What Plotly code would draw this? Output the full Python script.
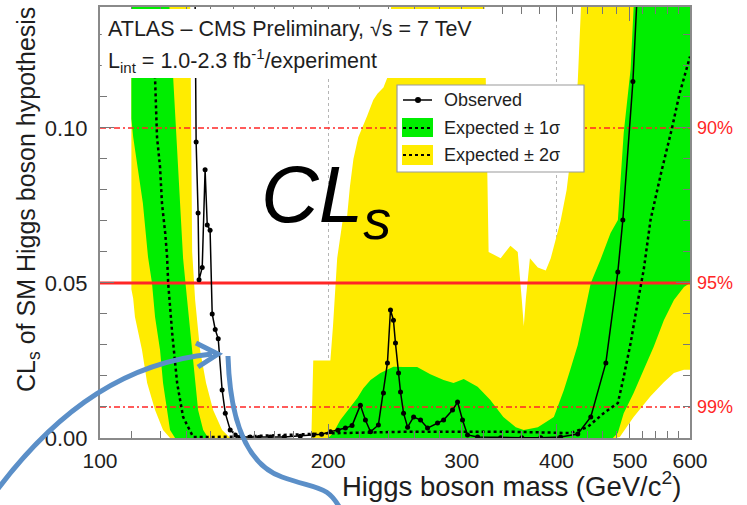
import numpy as np
import plotly.graph_objects as go

# ---------------- data ----------------
obs_mass = [132.5, 133.9, 134.7, 135.1, 136.4, 137.6, 138.5, 139.7, 140.6, 141.9, 143.2, 144.9,
            146.3, 148.5, 150.8, 153.1, 157.8, 162.0, 167.7, 175.0, 183.7, 191.1, 196.0, 201.3,
            206.0, 210.7, 215.0, 220.5, 223.9, 227.4, 232.9, 236.5, 239.4, 241.6, 243.8, 245.3,
            247.6, 249.1, 251.4, 254.5, 259.2, 264.7, 270.4, 278.7, 283.9, 291.7, 296.2, 300.7,
            305.3, 314.8, 337.6, 360.0, 381.3, 405.0, 426.7, 443.9, 464.7, 481.9, 489.3, 504.5,
            510.6, 520.0, 600.0]
obs_cls = [0.25, 0.0955, 0.0726, 0.051, 0.055, 0.0865, 0.0687, 0.067, 0.040, 0.035, 0.032, 0.0155,
           0.008, 0.0026, 0.001, 0.0003, 0.0003, 0.0002, 0.0003, 0.0003, 0.0006, 0.001, 0.0012, 0.002,
           0.0025, 0.0032, 0.004, 0.0106, 0.0058, 0.002, 0.0042, 0.0145, 0.0242, 0.0413, 0.038, 0.0306,
           0.021, 0.0148, 0.008, 0.0035, 0.0068, 0.0058, 0.0032, 0.0048, 0.0058, 0.009, 0.0116, 0.0058,
           0.001, 0.0003, 0.0001, 0.0001, 0.0001, 0.0003, 0.0013, 0.0068, 0.0242, 0.0535, 0.0703, 0.115,
           0.141, 0.17, 0.55]

exp_mass = [110.0, 115.0, 118.2, 118.9, 120.0, 120.7, 121.9, 122.6, 123.0, 124.5, 126.4, 128.7,
            132.7, 150.0, 200.0, 250.0, 300.0, 350.0, 417.0, 439.5, 461.6, 482.0, 490.6, 501.0,
            511.6, 521.3, 532.2, 549.6, 567.4, 581.2, 600.0]
exp_cls = [0.5, 0.25, 0.116, 0.0971, 0.0874, 0.0758, 0.0661, 0.0584, 0.050, 0.0339, 0.0177, 0.0068,
           0.0003, 0.0004, 0.0015, 0.002, 0.002, 0.002, 0.0016, 0.0035, 0.008, 0.0113, 0.0197, 0.0306,
           0.0435, 0.0542, 0.0703, 0.0855, 0.0994, 0.111, 0.123]

# expected +1 sigma (upper) and -1 sigma (lower) edges
p1_mass = [110.0, 120.0, 123.7, 124.9, 126.8, 128.7, 130.3, 132.3, 133.5, 134.7, 136.8, 138.9,
           200.0, 203.0, 207.5, 213.9, 218.6, 222.4, 227.4, 234.3, 243.8, 251.4, 262.0, 272.7,
           283.9, 292.6, 301.8, 314.8, 327.0, 340.4, 353.5, 362.2, 378.0, 396.8, 409.1, 417.0,
           426.7, 443.9, 457.0, 471.4, 482.0, 490.6, 501.0, 505.6, 513.3, 600.0]
p1_cls = [0.4, 0.2, 0.135, 0.116, 0.0865, 0.058, 0.0445, 0.0284, 0.0177, 0.009, 0.0026, 0.0,
          0.0, 0.0016, 0.0058, 0.010, 0.013, 0.016, 0.0187, 0.021, 0.023, 0.0229, 0.0229, 0.0206,
          0.0187, 0.0177, 0.019, 0.0165, 0.0123, 0.0068, 0.0035, 0.0026, 0.0035, 0.0068, 0.0155, 0.0219,
          0.030, 0.050, 0.0574, 0.0661, 0.0703, 0.0984, 0.119, 0.139, 0.16, 0.45]
m1_mass = [110.0, 110.6, 113.9, 115.7, 117.1, 118.2, 120.0, 121.1, 122.6, 123.7, 125.6, 474.7,
           481.9, 490.6, 505.6, 521.3, 537.4, 554.2, 571.4, 589.1, 600.0]
m1_cls = [0.103, 0.0971, 0.0758, 0.0584, 0.050, 0.039, 0.0284, 0.0177, 0.009, 0.0026, 0.0, 0.0,
          0.0016, 0.008, 0.0145, 0.022, 0.0294, 0.038, 0.0445, 0.0487, 0.050]

# expected +2 sigma (upper) and -2 sigma (lower) edges
p2_mass = [110.0, 120.0, 128.0, 131.5, 132.3, 133.5, 135.5, 138.0, 141.0, 144.9, 148.5, 190.0,
           191.1, 201.3, 202.9, 205.5, 208.9, 211.7, 213.6, 215.9, 219.1, 221.8, 225.2, 229.3,
           232.2, 236.5, 240.0, 244.0, 320.5, 325.5, 337.6, 347.8, 355.6, 359.9, 362.2, 364.5,
           369.0, 378.0, 387.2, 393.1, 399.2, 405.0, 412.5, 419.6, 426.7, 434.6, 600.0]
p2_cls = [0.5, 0.35, 0.2, 0.14, 0.06, 0.0445, 0.0284, 0.0177, 0.009, 0.0026, 0.0, 0.0,
          0.025, 0.025, 0.036, 0.058, 0.070, 0.071, 0.081, 0.090, 0.097, 0.100, 0.104, 0.109,
          0.111, 0.113, 0.117, 0.16, 0.16, 0.060, 0.058, 0.062, 0.060, 0.045, 0.036, 0.045,
          0.058, 0.055, 0.054, 0.058, 0.064, 0.070, 0.080, 0.095, 0.115, 0.16, 0.4]
m2_mass = [110.0, 110.6, 111.2, 113.6, 115.4, 118.2, 121.1, 123.7, 478.6, 484.8, 505.6, 532.2,
           554.2, 571.4, 589.1, 600.0]
m2_cls = [0.048, 0.045, 0.039, 0.0284, 0.0177, 0.009, 0.0026, 0.0, 0.0, 0.0003, 0.0068, 0.0135,
          0.018, 0.021, 0.022, 0.022]

cl_levels = [0.10, 0.05, 0.01]
cl_labels = ["90%", "95%", "99%"]
x_tick_vals = [100, 200, 300, 400, 500, 600]
x_minor_vals = [110, 120, 130, 140, 150, 160, 170, 180, 190, 220, 240, 260, 280, 320, 340, 360,
                380, 420, 440, 460, 480, 520, 540, 560, 580]
y_tick_vals = [0.00, 0.05, 0.10]
y_minor_vals = [0.01, 0.02, 0.03, 0.04, 0.06, 0.07, 0.08, 0.09, 0.11, 0.12, 0.13]

# ---------------- styling ----------------
YELLOW = "#ffec00"
GREEN = "#00ee00"
RED = "#ff2626"
BLUE = "#5b8fc8"
FONT = "Liberation Sans, Arial, sans-serif"
TXT = "#1e1e1e"

W, H = 747, 505
L, R, T, B = 100, 57, 7, 67
PW, PH = W - L - R, H - T - B


def P(px, py):
    """pixel -> paper coordinates (for decorations only)"""
    return (px - L) / PW, (H - B - py) / PH


def path(cmds):
    out = []
    for c in cmds:
        if isinstance(c, str):
            out.append(c)
        else:
            X, Y = P(*c)
            out.append(f"{X:.4f},{Y:.4f}")
    return " ".join(out)


fig = go.Figure()

# yellow band (+-2 sigma)
fig.add_trace(go.Scatter(x=p2_mass + m2_mass[::-1], y=p2_cls + m2_cls[::-1], fill="toself",
                         fillcolor=YELLOW, line=dict(width=0), mode="lines", hoverinfo="skip"))
# green band (+-1 sigma)
fig.add_trace(go.Scatter(x=p1_mass + m1_mass[::-1], y=p1_cls + m1_cls[::-1], fill="toself",
                         fillcolor=GREEN, line=dict(width=0), mode="lines", hoverinfo="skip"))

# confidence level lines
for lvl in cl_levels:
    solid = abs(lvl - 0.05) < 1e-9
    fig.add_trace(go.Scatter(x=[100, 600], y=[lvl, lvl], mode="lines",
                             line=dict(color=RED, width=3 if solid else 1.5,
                                       dash="solid" if solid else "6px,3px,2px,3px"),
                             hoverinfo="skip"))

# expected
fig.add_trace(go.Scatter(x=exp_mass, y=exp_cls, mode="lines",
                         line=dict(color="black", width=2.5, dash="dot")))
# observed
fig.add_trace(go.Scatter(x=obs_mass, y=obs_cls, mode="lines+markers",
                         line=dict(color="black", width=1.5),
                         marker=dict(color="black", size=5), cliponaxis=True))

shapes = []
# white pad behind the header text
bx0, by0 = P(100, 78)
bx1, by1 = P(487, 9)
shapes.append(dict(type="rect", xref="paper", yref="paper", x0=bx0 + 0.003, x1=bx1, y0=by0, y1=by1,
                   fillcolor="white", line=dict(width=0), layer="above"))

# legend box
lx0, ly0 = P(397, 172)
lx1, ly1 = P(584, 85)
shapes.append(dict(type="rect", xref="paper", yref="paper", x0=lx0, x1=lx1, y0=ly0, y1=ly1,
                   fillcolor="white", line=dict(color="#9a9a9a", width=1.2), layer="above"))
# swatches
for (ya, yb, col) in [(118, 137, GREEN), (145, 165, YELLOW)]:
    a = P(402, yb)
    b = P(433, ya)
    shapes.append(dict(type="rect", xref="paper", yref="paper", x0=a[0], x1=b[0], y0=a[1], y1=b[1],
                       fillcolor=col, line=dict(width=0), layer="above"))
for yy in (128, 155):
    a = P(403, yy)
    b = P(432, yy)
    shapes.append(dict(type="line", xref="paper", yref="paper", x0=a[0], x1=b[0], y0=a[1], y1=b[1],
                       line=dict(color="black", width=2, dash="dot"), layer="above"))
a = P(403, 100)
b = P(432, 100)
shapes.append(dict(type="line", xref="paper", yref="paper", x0=a[0], x1=b[0], y0=a[1], y1=b[1],
                   line=dict(color="black", width=1.5), layer="above"))
c0 = P(415, 97)
c1 = P(421, 103)
shapes.append(dict(type="circle", xref="paper", yref="paper", x0=c0[0], x1=c1[0], y0=c1[1], y1=c0[1],
                   fillcolor="black", line=dict(width=0), layer="above"))

# blue hand-drawn arrows
shapes.append(dict(type="path", xref="paper", yref="paper", layer="above",
                   path=path(["M", (-6, 494), "C", (60, 405), (130, 362), (212, 354)]),
                   line=dict(color=BLUE, width=5)))
shapes.append(dict(type="path", xref="paper", yref="paper", layer="above",
                   path=path(["M", (196, 343), "L", (218, 354), "L", (198, 367)]),
                   line=dict(color=BLUE, width=5)))
shapes.append(dict(type="path", xref="paper", yref="paper", layer="above",
                   path=path(["M", (228, 356), "C", (230, 420), (246, 464), (282, 477),
                              "S", (328, 484), (342, 512)]),
                   line=dict(color=BLUE, width=5)))

annotations = []


def ann(text, px, py, size, xanchor="center", yanchor="middle", color=TXT, angle=0, **kw):
    X, Y = P(px, py)
    annotations.append(dict(text=text, x=X, y=Y, xref="paper", yref="paper", showarrow=False,
                            xanchor=xanchor, yanchor=yanchor, textangle=angle,
                            font=dict(family=FONT, size=size, color=color), **kw))


ann("ATLAS – CMS Preliminary, √s = 7 TeV", 106, 29, 21.5, xanchor="left")
ann("L<sub>int</sub> = 1.0-2.3 fb<sup>-1</sup>/experiment", 106, 61, 21.5, xanchor="left")
ann("Observed", 442, 100, 18, xanchor="left")
ann("Expected ± 1σ", 442, 128, 18, xanchor="left")
ann("Expected ± 2σ", 442, 155, 18, xanchor="left")
for lvl, lab in zip(cl_levels, cl_labels):
    annotations.append(dict(text=lab, x=1.008, y=lvl, xref="paper", yref="y", showarrow=False,
                            xanchor="left", yanchor="middle",
                            font=dict(family=FONT, size=18, color=RED)))
ann("<i>CL<sub>s</sub></i>", 259, 200, 80, xanchor="left", color="black")
ann("CL<sub>s</sub> of SM Higgs boson hypothesis", 28, 200, 25, angle=-90)
ann("Higgs boson mass (GeV/c<sup>2</sup>)", 511, 504, 27.5, yanchor="bottom")

fig.update_layout(
    width=W, height=H, margin=dict(l=L, r=R, t=T, b=B, autoexpand=False),
    plot_bgcolor="white", paper_bgcolor="white", showlegend=False,
    font=dict(family=FONT, color=TXT),
    shapes=shapes, annotations=annotations,
)
fig.update_xaxes(type="log", range=[np.log10(100), np.log10(600)],
                 tickmode="array", tickvals=x_tick_vals, ticktext=[str(v) for v in x_tick_vals],
                 ticks="inside", ticklen=14, tickwidth=1, tickcolor="#777",
                 showline=True, linecolor="#8a8a8a", linewidth=2, mirror="ticks",
                 showgrid=True, gridcolor="#b5b5b5", griddash="dot", gridwidth=1,
                 minor=dict(tickmode="array", tickvals=x_minor_vals, ticks="inside", ticklen=7,
                            tickcolor="#777", showgrid=False),
                 tickfont=dict(family=FONT, size=21, color=TXT), ticklabelstandoff=3,
                 zeroline=False)
fig.update_yaxes(range=[0, 0.139], tickmode="array", tickvals=y_tick_vals,
                 ticktext=["0.00", "0.05", "0.10"],
                 ticks="inside", ticklen=14, tickwidth=1, tickcolor="#777",
                 showline=True, linecolor="#8a8a8a", linewidth=2, mirror="ticks",
                 showgrid=False, zeroline=False,
                 minor=dict(tickmode="array", tickvals=y_minor_vals, ticks="inside", ticklen=7,
                            tickcolor="#777", showgrid=False),
                 tickfont=dict(family=FONT, size=22, color=TXT), ticklabelstandoff=6)

fig.write_html("out.html", config={"displayModeBar": False},
               post_script="document.body.style.margin='0px';document.body.style.overflow='hidden';")
